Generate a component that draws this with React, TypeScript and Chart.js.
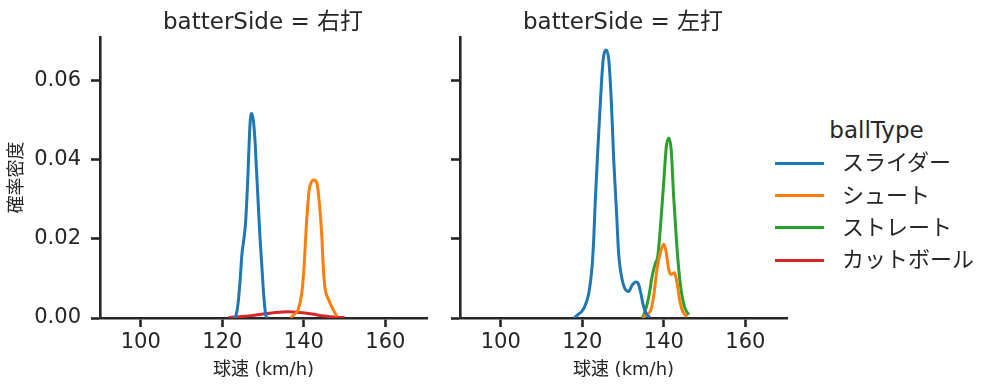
import React, { useEffect, useRef } from "react";
import { Chart, registerables } from "chart.js";

Chart.register(...registerables);

const FONT = '"DejaVu Sans", "Noto Sans CJK JP", sans-serif';
const INK = "#262626";

const panelTitles = ["batterSide = 右打", "batterSide = 左打"];
const xTitle = "球速 (km/h)";
const yTitle = "確率密度";
const legendTitle = "ballType";
const ballTypes = ["スライダー", "シュート", "ストレート", "カットボール"];
const colors = ["#1f77b4", "#ff7f0e", "#2ca02c", "#d62728"];
const xTicks = [100, 120, 140, 160];
const yTicks = [0, 0.02, 0.04, 0.06];

// batterSide = 右打
const rSliderX = [122.8, 123.3, 123.9, 124.4, 124.8, 125.3, 125.7, 126.2, 126.8, 127.2, 127.6, 128.0, 128.4, 128.8, 129.2, 129.7, 130.1, 130.6, 131.0];
const rSliderY = [0, 0.0005, 0.004, 0.01, 0.016, 0.02, 0.024, 0.034, 0.049, 0.0516, 0.05, 0.045, 0.037, 0.029, 0.021, 0.013, 0.0065, 0.001, 0];
const rShootX = [136.8, 137.4, 138.6, 139.5, 140.0, 140.7, 141.3, 141.9, 142.5, 143.2, 143.8, 144.4, 144.8, 145.2, 146.0, 147.2, 148.1];
const rShootY = [0, 0.0007, 0.0021, 0.0063, 0.0122, 0.0248, 0.0323, 0.0344, 0.0348, 0.034, 0.029, 0.0206, 0.0122, 0.0075, 0.0048, 0.0021, 0.0004];
const rCutX = [121.5, 124, 127, 130, 133, 136, 139, 142, 145, 148, 150];
const rCutY = [0.0001, 0.0003, 0.0006, 0.001, 0.0014, 0.0016, 0.0014, 0.001, 0.0005, 0.0002, 0.0001];

// batterSide = 左打
const lSliderX = [118.0, 118.4, 120.4, 121.6, 122.4, 122.8, 123.2, 123.8, 124.5, 125.1, 125.9, 126.5, 127.1, 127.7, 128.4, 128.9, 129.8, 130.4, 131.0, 131.4, 132.2, 133.2, 133.8, 134.3, 135.0, 135.7, 136.5];
const lSliderY = [0, 0.0004, 0.0025, 0.0063, 0.013, 0.02, 0.03, 0.0424, 0.0558, 0.065, 0.0676, 0.065, 0.055, 0.04, 0.0265, 0.0164, 0.0095, 0.0075, 0.0068, 0.0067, 0.0083, 0.0091, 0.0085, 0.0065, 0.003, 0.001, 0.0002];
const lShootX = [135.0, 135.5, 136.7, 137.5, 138.3, 139.1, 140.0, 140.6, 141.2, 141.8, 142.6, 143.2, 144.0, 144.8, 145.7];
const lShootY = [0, 0.0008, 0.0017, 0.0055, 0.0122, 0.0164, 0.0186, 0.0164, 0.0122, 0.011, 0.0114, 0.009, 0.0038, 0.0013, 0.0003];
const lStraightX = [134.6, 135.1, 136.3, 137.1, 137.9, 138.5, 139.1, 140.0, 140.6, 141.2, 141.8, 142.4, 143.2, 144.0, 145.0, 146.1];
const lStraightY = [0, 0.0008, 0.0054, 0.0104, 0.0138, 0.0155, 0.0222, 0.0348, 0.0432, 0.0454, 0.0424, 0.0306, 0.018, 0.0088, 0.003, 0.0008];

type Series = { xs: number[]; ys: number[]; color: string };

const rightBatter: Series[] = [
  { xs: rSliderX, ys: rSliderY, color: colors[0] },
  { xs: rShootX, ys: rShootY, color: colors[1] },
  { xs: rCutX, ys: rCutY, color: colors[3] },
];
const leftBatter: Series[] = [
  { xs: lSliderX, ys: lSliderY, color: colors[0] },
  { xs: lShootX, ys: lShootY, color: colors[1] },
  { xs: lStraightX, ys: lStraightY, color: colors[2] },
];

function makeConfig(series: Series[], showY: boolean): any {
  return {
    type: "line",
    data: {
      datasets: series.map((s) => ({
        data: s.xs.map((x, i) => ({ x, y: s.ys[i] })),
        borderColor: s.color,
        backgroundColor: s.color,
        borderWidth: 3,
        pointRadius: 0,
        fill: false,
        cubicInterpolationMode: "monotone",
      })),
    },
    options: {
      animation: false,
      responsive: false,
      maintainAspectRatio: false,
      layout: { padding: { left: 0, right: 13, top: 37, bottom: 0 } },
      plugins: { legend: { display: false }, tooltip: { enabled: false }, title: { display: false } },
      scales: {
        x: {
          type: "linear",
          min: 90,
          max: 170.2,
          afterBuildTicks: (s: any) => {
            s.ticks = xTicks.map((v) => ({ value: v }));
          },
          afterFit: (s: any) => {
            s.height = 73;
          },
          grid: { display: true, drawOnChartArea: false, drawTicks: true, tickLength: 9, tickWidth: 2.6, color: INK, tickColor: INK },
          border: { display: true, color: INK, width: 2.6 },
          ticks: { font: { family: FONT, size: 21 }, color: INK, padding: 3, maxRotation: 0, autoSkip: false },
          title: { display: true, text: xTitle, font: { family: FONT, size: 18 }, color: INK, padding: { top: 0, bottom: 10 } },
        },
        y: {
          type: "linear",
          min: 0,
          max: 0.0709,
          afterBuildTicks: (s: any) => {
            s.ticks = yTicks.map((v) => ({ value: v }));
          },
          afterFit: (s: any) => {
            s.width = 100;
          },
          grid: { display: true, drawOnChartArea: false, drawTicks: true, tickLength: 9, tickWidth: 2.6, color: INK, tickColor: INK },
          border: { display: true, color: INK, width: 2.6 },
          ticks: {
            font: { family: FONT, size: 21 },
            color: INK,
            padding: 10,
            callback: (v: any) => (showY ? Number(v).toFixed(2) : ""),
          },
          title: { display: showY, text: yTitle, font: { family: FONT, size: 18 }, color: INK, padding: { top: 7, bottom: 0 } },
        },
      },
    },
  };
}

function Panel({ series, showY, left }: { series: Series[]; showY: boolean; left: number }) {
  const ref = useRef<HTMLCanvasElement | null>(null);
  useEffect(() => {
    if (!ref.current) return;
    const chart = new Chart(ref.current, makeConfig(series, showY));
    return () => chart.destroy();
  }, []);
  return (
    <canvas
      ref={ref}
      width={440}
      height={391}
      style={{ position: "absolute", left, top: 0, width: 440, height: 391 }}
    />
  );
}

const textBase: React.CSSProperties = {
  position: "absolute",
  fontFamily: FONT,
  color: INK,
  whiteSpace: "nowrap",
  lineHeight: 1,
};

export default function App() {
  const legendYs = [163, 195.5, 227.5, 260];
  return (
    <div style={{ position: "absolute", left: 0, top: 0, width: 997, height: 391, background: "#fff", overflow: "hidden" }}>
      <Panel series={rightBatter} showY={true} left={0} />
      <Panel series={leftBatter} showY={false} left={360} />
      <div style={{ ...textBase, left: 263, top: 20.5, fontSize: 23, transform: "translate(-50%, -50%)" }}>{panelTitles[0]}</div>
      <div style={{ ...textBase, left: 623, top: 20.5, fontSize: 23, transform: "translate(-50%, -50%)" }}>{panelTitles[1]}</div>
      <div style={{ ...textBase, left: 876.5, top: 130, fontSize: 23, transform: "translate(-50%, -50%)" }}>{legendTitle}</div>
      {ballTypes.map((name, i) => (
        <React.Fragment key={name}>
          <div style={{ position: "absolute", left: 775, top: legendYs[i] - 1.5, width: 49, height: 3, background: colors[i] }} />
          <div style={{ ...textBase, left: 842, top: legendYs[i], fontSize: 22, transform: "translateY(-50%)" }}>{name}</div>
        </React.Fragment>
      ))}
    </div>
  );
}
